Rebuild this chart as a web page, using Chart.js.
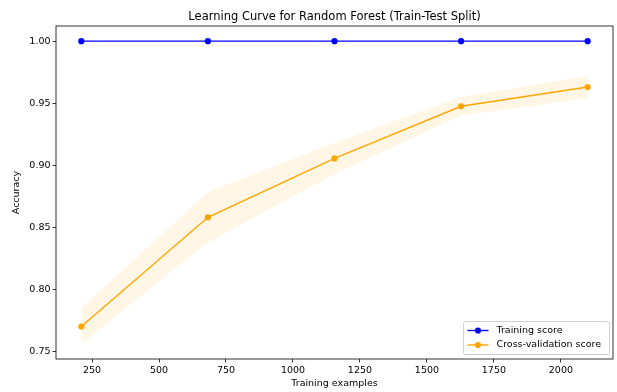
<!DOCTYPE html>
<html>
<head>
<meta charset="utf-8">
<script src="https://cdn.jsdelivr.net/npm/chart.js@4"></script>
<style>
  html, body { margin: 0; padding: 0; background: #fff; }
  #wrap { width: 617px; height: 392px; }
</style>
</head>
<body>
<div id="wrap"><canvas id="curveChart"></canvas></div>
<script>
// training set sizes and scores
const trainSizes = [210, 682.5, 1155, 1627.5, 2100];
const trainScore = [1.0, 1.0, 1.0, 1.0, 1.0];
const cvScore = [0.770, 0.858, 0.9055, 0.9475, 0.963];
const cvUpper = [0.785, 0.8785, 0.918, 0.955, 0.972];
const cvLower = [0.756, 0.838, 0.893, 0.940, 0.954];
const xTicks = [250, 500, 750, 1000, 1250, 1500, 1750, 2000];
const yTicks = [0.75, 0.80, 0.85, 0.90, 0.95, 1.00];
const chartTitle = 'Learning Curve for Random Forest (Train-Test Split)';

const FONT = "'DejaVu Sans', sans-serif";

function pts(xs, ys) {
    return xs.map((x, i) => ({ x: x, y: ys[i] }));
}

// matplotlib style frame, title over the axes and legend box in the lower right
const framePlugin = {
    id: 'frame',
    afterDraw(chart) {
        const ctx = chart.ctx;
        const a = chart.chartArea;
        ctx.save();
        ctx.strokeStyle = '#000';
        ctx.lineWidth = 0.8;
        ctx.strokeRect(a.left, a.top, a.right - a.left, a.bottom - a.top);

        ctx.fillStyle = '#000';
        ctx.font = '11.5px ' + FONT;
        ctx.textAlign = 'center';
        ctx.textBaseline = 'alphabetic';
        ctx.fillText(chartTitle, (a.left + a.right) / 2, a.top - 6);

        // legend
        const items = [
            { label: 'Training score', color: 'blue' },
            { label: 'Cross-validation score', color: 'orange' }
        ];
        const bx = 463.5, by = 321.5, bw = 146, bh = 33;
        ctx.fillStyle = 'rgba(255,255,255,0.8)';
        ctx.strokeStyle = '#d0d0d0';
        ctx.lineWidth = 1;
        ctx.beginPath();
        ctx.roundRect(bx, by, bw, bh, 2);
        ctx.fill();
        ctx.stroke();
        ctx.font = '9.5px ' + FONT;
        ctx.textAlign = 'left';
        ctx.textBaseline = 'middle';
        items.forEach((it, i) => {
            const yy = by + 9 + i * 14.5;
            ctx.strokeStyle = it.color;
            ctx.lineWidth = 1.4;
            ctx.beginPath();
            ctx.moveTo(bx + 4, yy);
            ctx.lineTo(bx + 25, yy);
            ctx.stroke();
            ctx.fillStyle = it.color;
            ctx.beginPath();
            ctx.arc(bx + 14.5, yy, 3.1, 0, Math.PI * 2);
            ctx.fill();
            ctx.fillStyle = '#000';
            ctx.fillText(it.label, bx + 33, yy);
        });
        ctx.restore();
    }
};

new Chart(document.getElementById('curveChart'), {
    type: 'line',
    data: {
        datasets: [
            {
                label: 'upper',
                data: pts(trainSizes, cvUpper),
                borderWidth: 0,
                pointRadius: 0,
                fill: false
            },
            {
                label: 'lower',
                data: pts(trainSizes, cvLower),
                borderWidth: 0,
                pointRadius: 0,
                backgroundColor: 'rgba(255,165,0,0.1)',
                fill: '-1'
            },
            {
                label: 'Training score',
                data: pts(trainSizes, trainScore),
                borderColor: 'blue',
                backgroundColor: 'blue',
                borderWidth: 1.4,
                pointRadius: 3.1,
                pointBorderWidth: 0,
                fill: false
            },
            {
                label: 'Cross-validation score',
                data: pts(trainSizes, cvScore),
                borderColor: 'orange',
                backgroundColor: 'orange',
                borderWidth: 1.4,
                pointRadius: 3.1,
                pointBorderWidth: 0,
                fill: false
            }
        ]
    },
    options: {
        responsive: true,
        maintainAspectRatio: false,
        animation: false,
        layout: { padding: { left: 0, right: 3, top: 26, bottom: 0 } },
        plugins: {
            legend: { display: false },
            tooltip: { enabled: false },
            title: { display: false }
        },
        scales: {
            x: {
                type: 'linear',
                min: 115.5,
                max: 2194.5,
                afterBuildTicks(scale) {
                    scale.ticks = xTicks.map(v => ({ value: v }));
                },
                afterFit(scale) { scale.height = 33; },
                grid: { drawOnChartArea: false, drawTicks: true, tickLength: 3.5, tickColor: '#000', tickWidth: 0.8 },
                border: { display: false },
                ticks: {
                    color: '#000',
                    font: { family: FONT, size: 9.5 },
                    padding: 2,
                    maxRotation: 0,
                    callback: v => String(v)
                },
                title: {
                    display: true,
                    text: 'Training examples',
                    color: '#000',
                    font: { family: FONT, size: 9.5 },
                    padding: { top: 0, bottom: 3 }
                }
            },
            y: {
                min: 0.7438,
                max: 1.0122,
                afterBuildTicks(scale) {
                    scale.ticks = yTicks.map(v => ({ value: v }));
                },
                afterFit(scale) { scale.width = 56; },
                grid: { drawOnChartArea: false, drawTicks: true, tickLength: 3.5, tickColor: '#000', tickWidth: 0.8 },
                border: { display: false },
                ticks: {
                    color: '#000',
                    font: { family: FONT, size: 9.5 },
                    padding: 2,
                    callback: v => v.toFixed(2)
                },
                title: {
                    display: true,
                    text: 'Accuracy',
                    color: '#000',
                    font: { family: FONT, size: 9.5 },
                    padding: { top: 11, bottom: 0 }
                }
            }
        }
    },
    plugins: [framePlugin]
});
</script>
</body>
</html>
